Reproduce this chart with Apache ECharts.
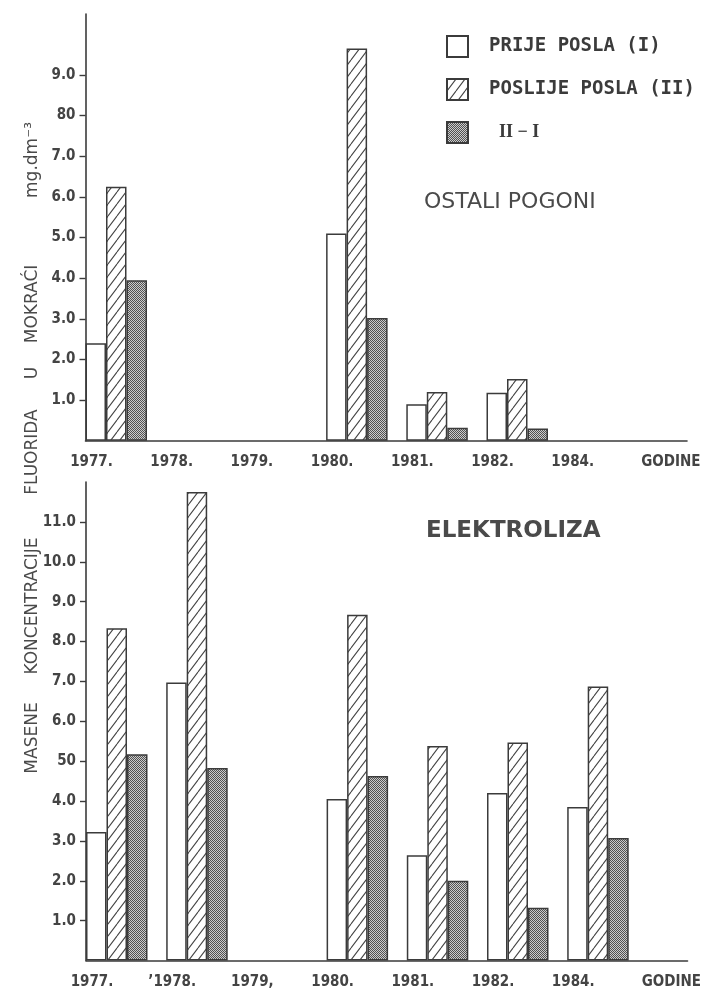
<!DOCTYPE html>
<html>
<head>
<meta charset="utf-8">
<script src="https://cdn.jsdelivr.net/npm/echarts@6/dist/echarts.min.js"></script>
<style>
html,body{margin:0;padding:0;background:#fff;}
#chart{width:707px;height:994px;}
</style>
</head>
<body>
<div id="chart"></div>
<script>
// ---------- DATA ----------
const years = ['1977', '1978', '1979', '1980', '1981', '1982', '1984'];
const xLabelsTop = ['1977.', '1978.', '1979.', '1980.', '1981.', '1982.', '1984.', 'GODINE'];
const xLabelsBottom = ['1977.', '\u02BC1978.', '1979,', '1980.', '1981.', '1982.', '1984.', 'GODINE'];
const seriesNames = ['PRIJE POSLA (I)', 'POSLIJE POSLA (II)', 'II \u2212 I'];

// OSTALI POGONI
const topPrije    = [2.4, null, null, 5.1, 0.9, 1.18, null];
const topPoslije  = [6.25, null, null, 9.65, 1.2, 1.52, null];
const topRazlika  = [3.95, null, null, 3.02, 0.32, 0.3, null];
// ELEKTROLIZA
const botPrije    = [3.22, 6.97, null, 4.05, 2.64, 4.2, 3.85];
const botPoslije  = [8.33, 11.75, null, 8.67, 5.38, 5.47, 6.87];
const botRazlika  = [5.17, 4.83, null, 4.63, 2.0, 1.32, 3.07];

const yTicksTop = [1, 2, 3, 4, 5, 6, 7, 8, 9];
const yLabelsTop = ['1.0', '2.0', '3.0', '4.0', '5.0', '6.0', '7.0', '80', '9.0'];
const yTicksBottom = [1, 2, 3, 4, 5, 6, 7, 8, 9, 10, 11];
const yLabelsBottom = ['1.0', '2.0', '3.0', '4.0', '50', '6.0', '7.0', '8.0', '9.0', '10.0', '11.0'];
const xTickValues = [0, 1, 2, 3, 4, 5, 6, 7];

// ---------- STYLE / LAYOUT ----------
const INK = '#3b3b3b';
const BAND = 80.2, BARW = 20.5;
const AXIS_W = 601.5, BARS_W = BAND * years.length;
const TOP = {left: 85.5, top: 14, height: 426.7, max: 10.5};
const BOT = {left: 86, top: 482, height: 478.5, max: 12};
const barShift = 3 * BARW / 2 - BAND / 2;

function hatchPattern() {
  const w = 9, h = 12;
  const c = document.createElement('canvas');
  c.width = w; c.height = h;
  const g = c.getContext('2d');
  g.fillStyle = '#ffffff'; g.fillRect(0, 0, w, h);
  g.strokeStyle = '#454545'; g.lineWidth = 1.1;
  g.beginPath();
  for (let k = -1; k <= 1; k++) { g.moveTo(k * w, h); g.lineTo((k + 1) * w, 0); }
  g.stroke();
  return c;
}
function dotPattern() {
  const c = document.createElement('canvas');
  c.width = 2; c.height = 2;
  const g = c.getContext('2d');
  g.fillStyle = '#cccccc'; g.fillRect(0, 0, 2, 2);
  g.fillStyle = '#525252'; g.fillRect(0, 0, 1, 1); g.fillRect(1, 1, 1, 1);
  return c;
}
const fills = [
  '#ffffff',
  {image: hatchPattern(), repeat: 'repeat'},
  {image: dotPattern(), repeat: 'repeat'}
];

const labelFont = {fontFamily: 'DejaVu Sans Condensed, DejaVu Sans', fontSize: 15, fontWeight: 'bold', color: '#444'};

function yAxisVisible(gridIndex, max, ticks, labels) {
  return {
    type: 'value', gridIndex, min: 0, max,
    splitLine: {show: false},
    axisLine: {show: true, lineStyle: {color: INK, width: 1.6}},
    axisTick: {show: true, customValues: ticks, length: 6, lineStyle: {color: INK, width: 1.4}},
    axisLabel: Object.assign({
      customValues: ticks, margin: 10,
      formatter: v => labels[ticks.indexOf(v)] || ''
    }, labelFont)
  };
}
function xAxisVisible(gridIndex, labels) {
  return {
    type: 'value', gridIndex, min: 0, max: 7.5,
    splitLine: {show: false},
    axisLine: {show: true, onZero: false, lineStyle: {color: INK, width: 1.6}},
    axisTick: {show: false},
    axisLabel: {
      customValues: xTickValues, margin: 14,
      formatter: v => {
        const t = labels[v];
        return t === 'GODINE' ? '{g|' + t + '}' : '{y|' + t + '}';
      },
      rich: {
        y: Object.assign({padding: [0, 0, 0, 12]}, labelFont),
        g: Object.assign({padding: [0, 0, 0, 48]}, labelFont)
      }
    }
  };
}
function barSeries(xi, yi, dataArr) {
  return dataArr.map((d, i) => ({
    name: seriesNames[i], type: 'bar', xAxisIndex: xi, yAxisIndex: yi,
    data: d, barWidth: BARW, barGap: '0%',
    itemStyle: {color: fills[i], borderColor: INK, borderWidth: 1.5},
    emphasis: {disabled: true}
  }));
}

const option = {
  backgroundColor: '#ffffff',
  animation: false,
  grid: [
    {left: TOP.left + barShift, top: TOP.top, width: BARS_W, height: TOP.height},
    {left: TOP.left, top: TOP.top, width: AXIS_W, height: TOP.height},
    {left: BOT.left + barShift, top: BOT.top, width: BARS_W, height: BOT.height},
    {left: BOT.left, top: BOT.top, width: AXIS_W, height: BOT.height}
  ],
  xAxis: [
    {type: 'category', gridIndex: 0, data: years, show: false},
    xAxisVisible(1, xLabelsTop),
    {type: 'category', gridIndex: 2, data: years, show: false},
    xAxisVisible(3, xLabelsBottom)
  ],
  yAxis: [
    {type: 'value', gridIndex: 0, min: 0, max: TOP.max, show: false},
    yAxisVisible(1, TOP.max, yTicksTop, yLabelsTop),
    {type: 'value', gridIndex: 2, min: 0, max: BOT.max, show: false},
    yAxisVisible(3, BOT.max, yTicksBottom, yLabelsBottom)
  ],
  legend: {
    data: seriesNames, orient: 'vertical', left: 446, top: 35,
    padding: 0, itemWidth: 21, itemHeight: 21, itemGap: 20,
    icon: 'rect', selectedMode: false,
    textStyle: {
      fontFamily: 'DejaVu Sans Mono', fontWeight: 'bold', fontSize: 19, color: INK,
      padding: [0, 0, 0, 16],
      rich: {s: {fontFamily: 'Liberation Serif', fontWeight: 'bold', fontSize: 18, color: INK, padding: [0, 0, 0, 10]}}
    },
    formatter: n => n === seriesNames[2] ? '{s|' + n + '}' : n
  },
  title: [
    {text: 'OSTALI POGONI', left: 424, top: 191, padding: 0,
     textStyle: {fontFamily: 'DejaVu Sans', fontWeight: 'normal', fontSize: 22, color: '#4a4a4a'}},
    {text: 'ELEKTROLIZA', left: 426, top: 520, padding: 0,
     textStyle: {fontFamily: 'DejaVu Sans', fontWeight: 'bold', fontSize: 23, color: '#4a4a4a'}}
  ],
  graphic: [
    ['MASENE', 738], ['KONCENTRACIJE', 606], ['FLUORIDA', 452], ['U', 373],
    ['MOKRA\u0106I', 304], ['mg.dm\u207B\u00B3', 160]
  ].map(([t, y]) => ({
    type: 'text', x: 33, y, rotation: Math.PI / 2, silent: true,
    style: {text: t, fontFamily: 'DejaVu Sans', fontSize: 17, fill: '#4a4a4a',
            textAlign: 'center', textVerticalAlign: 'middle'}
  })),
  series: [
    ...barSeries(0, 0, [topPrije, topPoslije, topRazlika]),
    ...barSeries(2, 2, [botPrije, botPoslije, botRazlika])
  ]
};

const chart = echarts.init(document.getElementById('chart'), null, {renderer: 'canvas'});
chart.setOption(option);
</script>
</body>
</html>
